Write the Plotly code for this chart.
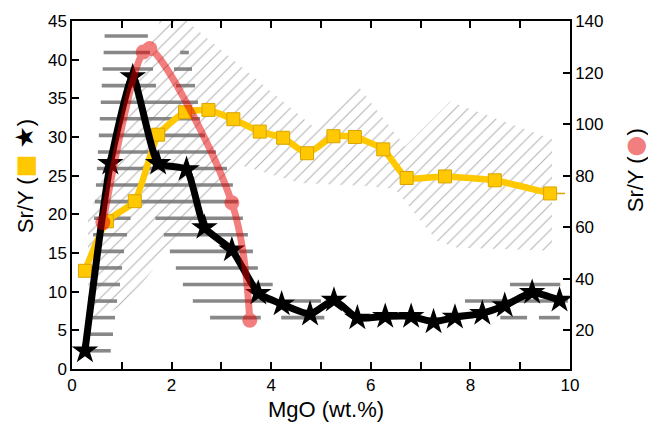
import numpy as np
import plotly.graph_objects as go

# --- Sr/Y medians binned by MgO (wt.%) ---
star_mgo = [0.26, 0.77, 1.22, 1.73, 2.30, 2.66, 3.21, 3.74, 4.21, 4.78,
            5.26, 5.73, 6.29, 6.81, 7.26, 7.69, 8.24, 8.69, 9.24, 9.79]
star_sry = [2.35, 26.6, 37.8, 26.6, 25.8, 18.3, 15.4, 9.8, 8.4, 7.1,
            8.9, 6.6, 6.8, 6.8, 6.1, 6.7, 7.2, 8.2, 9.9, 8.9]

square_mgo = [0.26, 0.70, 1.26, 1.73, 2.27, 2.74, 3.24, 3.77, 4.24,
              4.72, 5.25, 5.68, 6.25, 6.72, 7.49, 8.49, 9.60]
square_sry = [12.7, 19.1, 21.7, 30.3, 33.2, 33.5, 32.3, 30.7, 29.9,
              27.9, 30.1, 30.0, 28.4, 24.7, 24.9, 24.4, 22.7]

circle_mgo = [0.62, 1.43, 1.56, 3.21, 3.57]
circle_sry = [61.8, 128.0, 129.3, 69.5, 23.9]   # right-hand axis

# --- spread envelopes (MgO, Sr/Y on left axis) ---
# envelope of the star series (horizontal hatching)
star_env_main_mgo = [0.281, 0.663, 1.506, 1.566, 1.627, 1.687, 1.707, 2.108, 2.048,
                     2.209, 2.329, 2.410, 2.470, 2.530, 2.570, 2.671, 2.892, 3.112,
                     3.233, 3.333, 3.434, 3.534, 3.635, 3.735, 4.036, 5.020, 5.080,
                     4.317, 3.996, 3.675, 2.871, 2.430, 2.229, 2.088, 1.968, 1.847,
                     1.687, 1.426, 1.165, 1.104, 1.044, 1.004, 0.964, 0.904, 0.863,
                     0.823, 0.763]
star_env_main_sry = [1.67, 43.97, 43.97, 40.92, 38.79, 36.64, 35.61, 35.61, 38.79,
                     41.53, 41.53, 38.79, 36.64, 34.49, 32.36, 30.21, 28.07, 25.93,
                     23.75, 21.60, 19.45, 17.32, 15.17, 13.02, 10.89, 8.74, 6.04,
                     6.04, 7.71, 6.04, 6.04, 8.74, 10.89, 13.02, 15.17, 17.32,
                     19.45, 20.57, 19.45, 17.32, 15.17, 13.02, 10.89, 8.74, 6.60,
                     4.46, 1.67]
star_env_tail_mgo = [8.795, 9.759, 9.960, 9.759, 9.458, 9.257, 9.056, 8.795, 7.892, 7.892, 8.795]
star_env_tail_sry = [11.57, 11.57, 8.74, 6.17, 6.17, 7.33, 6.17, 6.17, 8.36, 9.13, 10.16]

# envelope of the square series (diagonal hatching)
square_env_mgo = [0.321, 0.321, 1.867, 2.329, 2.369, 4.839, 5.723, 6.687, 7.590, 9.639,
                  9.639, 7.731, 7.329, 6.486, 5.924, 4.578, 3.313, 1.104, 0.763]
square_env_sry = [6.56, 19.54, 46.80, 46.80, 44.61, 31.37, 36.77, 28.80, 34.59, 29.70,
                  15.30, 15.69, 16.59, 23.27, 23.66, 24.04, 26.49, 8.61, 7.33]

# hatch line levels for the star envelope (Sr/Y units)
band_levels = 43.07 - np.arange(20) * 45.0 / 21.0

YELLOW = "#FFC800"
YELLOW_EDGE = "#D9A400"
RED = "#E60000"
PINK = "#F27F7F"
FONT = "Liberation Sans, Arial, sans-serif"
GLYPH = "font-family:DejaVu Sans;font-size:%dpx;color:%s"


def scan_segments(px, py, levels):
    """Horizontal hatch segments: intersections of each level with a polygon."""
    xs, ys = [], []
    n = len(px)
    for y0 in levels:
        hits = []
        for i in range(n):
            x1, y1 = px[i], py[i]
            x2, y2 = px[(i + 1) % n], py[(i + 1) % n]
            if (y1 <= y0 < y2) or (y2 <= y0 < y1):
                hits.append(x1 + (y0 - y1) * (x2 - x1) / (y2 - y1))
        hits.sort()
        for a, b in zip(hits[0::2], hits[1::2]):
            xs += [a, b, None]
            ys += [y0, y0, None]
    return xs, ys


fig = go.Figure()

# diagonal hatching around the squares
fig.add_trace(go.Scatter(
    x=square_env_mgo + [square_env_mgo[0]], y=square_env_sry + [square_env_sry[0]],
    mode="lines", fill="toself", line=dict(width=0, color="rgba(0,0,0,0)"),
    fillcolor="rgba(0,0,0,0)",
    fillpattern=dict(shape="/", size=9, solidity=0.12,
                     fgcolor="rgb(105,105,105)", bgcolor="rgba(0,0,0,0)"),
    hoverinfo="skip", showlegend=False,
))

# horizontal hatching around the stars
hx, hy = [], []
for ex, ey in [(star_env_main_mgo, star_env_main_sry), (star_env_tail_mgo, star_env_tail_sry)]:
    sx, sy = scan_segments(ex, ey, band_levels)
    hx += sx
    hy += sy
fig.add_trace(go.Scatter(
    x=hx, y=hy, mode="lines",
    line=dict(width=3.6, color="rgba(115,115,115,0.85)"),
    hoverinfo="skip", showlegend=False,
))

# squares
fig.add_trace(go.Scatter(
    x=square_mgo, y=square_sry, mode="lines+markers",
    line=dict(color=YELLOW, width=6.5, shape="spline", smoothing=0.5),
    marker=dict(symbol="square", size=13, color=YELLOW,
                line=dict(color=YELLOW_EDGE, width=1)),
    error_x=dict(type="data", symmetric=False,
                 array=[0] * (len(square_mgo) - 1) + [0.3],
                 arrayminus=[0] * len(square_mgo),
                 width=0, thickness=1.5, color=YELLOW_EDGE),
    showlegend=False,
))

# stars
fig.add_trace(go.Scatter(
    x=star_mgo, y=star_sry, mode="lines+markers",
    line=dict(color="black", width=7, shape="spline", smoothing=0.5),
    marker=dict(symbol="star", size=20, color="black", line=dict(width=0)),
    showlegend=False,
))

# circles on the right axis
fig.add_trace(go.Scatter(
    x=circle_mgo, y=circle_sry, yaxis="y2", mode="lines+markers",
    line=dict(color=RED, width=7, shape="spline", smoothing=1.0),
    marker=dict(symbol="circle", size=15, color=RED, line=dict(width=0)),
    opacity=0.5, showlegend=False,
))

axis_common = dict(
    showline=True, linecolor="black", linewidth=1.5,
    ticks="inside", ticklen=7, tickwidth=1.5, tickcolor="black",
    showgrid=False, zeroline=False,
    tickfont=dict(family=FONT, size=17, color="black"),
)

left_title = ("Sr/Y (<span style='%s'>■</span> <span style='%s'>★</span>)"
              % (GLYPH % (24, YELLOW), GLYPH % (25, "black")))
right_title = "Sr/Y (<span style='%s'>●</span>)" % (GLYPH % (24, PINK))

fig.update_layout(
    width=648, height=426,
    margin=dict(l=72, r=78, t=19, b=57),
    paper_bgcolor="white", plot_bgcolor="rgba(0,0,0,0)",
    xaxis=dict(range=[0, 10], tickvals=list(range(11)),
               ticktext=[str(v) if v % 2 == 0 else "" for v in range(11)],
               mirror="ticks", **axis_common),
    yaxis=dict(range=[0, 45], tickvals=list(range(0, 50, 5)), **axis_common),
    yaxis2=dict(range=[5, 140], tickvals=list(range(20, 160, 20)),
                overlaying="y", side="right", **axis_common),
    annotations=[
        dict(text="MgO (wt.%)", xref="paper", yref="paper", x=0.51, y=-0.117,
             xanchor="center", yanchor="middle", showarrow=False,
             font=dict(family=FONT, size=22, color="black")),
        dict(text=left_title,
             xref="paper", yref="paper", x=-0.0964, y=0.554, textangle=-90,
             xanchor="center", yanchor="middle", showarrow=False,
             font=dict(family=FONT, size=22, color="black")),
        dict(text=right_title,
             xref="paper", yref="paper", x=1.1305, y=0.571, textangle=-90,
             xanchor="center", yanchor="middle", showarrow=False,
             font=dict(family=FONT, size=22, color="black")),
    ],
)

fig.write_html("out.html")
